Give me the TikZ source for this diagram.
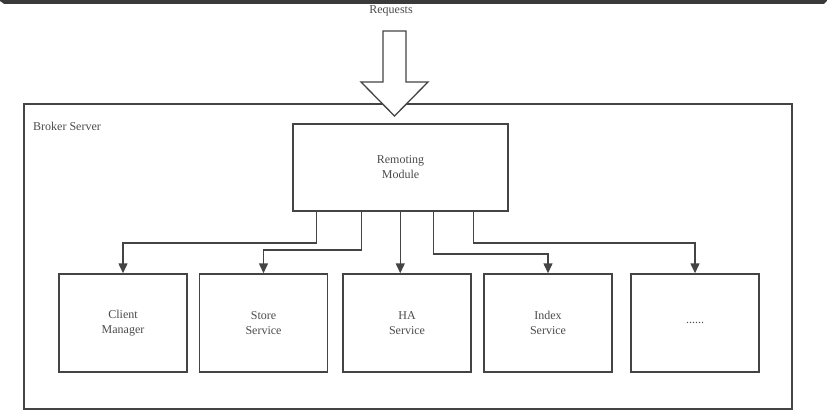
\documentclass[tikz,border=0pt]{standalone}
\usepackage{fontspec}
\setmainfont{Liberation Serif}
\usetikzlibrary{arrows.meta,calc}
\definecolor{linec}{HTML}{444444}
\definecolor{textc}{HTML}{4C4C4C}
\definecolor{barc}{HTML}{3A3A3A}
\tikzset{
  box/.style={draw=linec, line width=1.5pt, fill=white, inner sep=0pt, align=center,
    text=textc, font=\fontsize{12}{15}\selectfont},
  svc/.style={box, minimum width=128pt, minimum height=98pt},
  conn/.style={draw=linec, line width=1.5pt, -{Triangle[length=10pt,width=9pt]}},
  lbl/.style={text=textc, inner sep=0pt, font=\fontsize{12}{15}\selectfont}
}
\begin{document}
\begin{tikzpicture}[x=1pt,y=-1pt]
\useasboundingbox (0,0) rectangle (827,420);
\fill[white] (0,0) rectangle (827,420);
% top bar
\fill[barc] (0,0) -- (827,0) -- (827,1) -- (824,3.8) -- (4,3.8) -- (0,1) -- cycle;
% outer broker server box
\node[box, minimum width=768pt, minimum height=305pt, anchor=north west] (bs) at (23,103) {};
\node[lbl, anchor=west] (bsl) at (33,126) {Broker Server};
% requests label
\node[lbl] (req) at (391,11) {Requests};
% big arrow
\draw[linec, line width=1.3pt, fill=white, line join=miter]
  (383,31) -- (406,31) -- (406,82) -- (428,82) -- (394.5,116) -- (361,82) -- (383,82) -- cycle;
% remoting module
\node[box, minimum width=215pt, minimum height=87pt] (rm) at (400.5,167.5) {Remoting\\Module};
% services
\node[svc] (cm) at (123,323) {Client\\Manager};
\node[svc] (ss) at (263.5,323) {Store\\Service};
\node[svc] (ha) at (407,323) {HA\\Service};
\node[svc] (is) at (548,323) {Index\\Service};
\node[svc] (ot) at (695,323) {......};
% connectors
\draw[conn] (rm.south west) ++(24,0) -- ++(0,31) -| (cm.north);
\draw[conn] (rm.south west) ++(69,0) -- ++(0,38) -| (ss.north);
\draw[conn] (rm.south west) ++(108,0) coordinate (hc) -- (hc |- ha.north);
\draw[conn] (rm.south west) ++(141,0) -- ++(0,42) -| (is.north);
\draw[conn] (rm.south west) ++(181,0) -- ++(0,31) -| (ot.north);
\end{tikzpicture}
\end{document}
